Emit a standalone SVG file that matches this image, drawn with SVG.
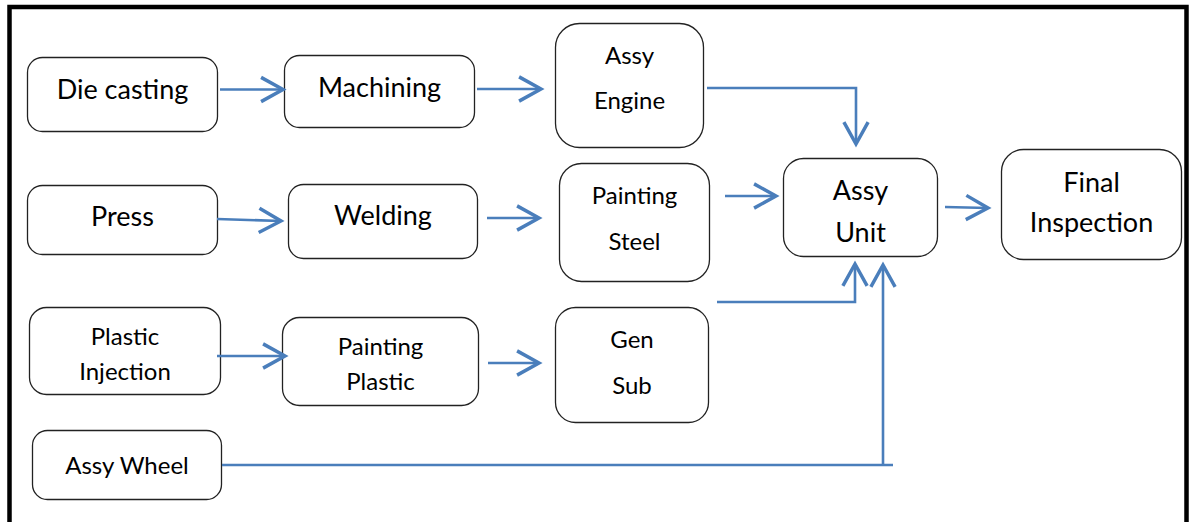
<svg xmlns="http://www.w3.org/2000/svg" width="1198" height="522" viewBox="0 0 1198 522">
<defs>
<style>
.n rect{fill:#fff;stroke:#222;stroke-width:1.3}
.n text{font-family:Lato,"Liberation Sans",sans-serif;fill:#000;text-anchor:middle}
.big{font-size:27px}
.sm{font-size:24px}
.c path{fill:none;stroke:#4a7ebb;stroke-width:2.6}
</style>
<marker id="ah" markerUnits="userSpaceOnUse" markerWidth="30" markerHeight="30" viewBox="-22 -13 26 26" refX="0" refY="0" orient="auto" overflow="visible">
<path d="M-19,-10.5 L0,0 L-19,10.5" fill="none" stroke="#4a7ebb" stroke-width="3"/>
</marker>
</defs>
<rect width="1198" height="522" fill="#fff"/>
<path d="M9.5,540 V7 H1186.5 V540" fill="none" stroke="#000" stroke-width="4.5"/>
<g id="die-casting" class="n"><rect x="27.5" y="57.5" width="190" height="74" rx="15"/><text class="big" x="122.5" y="99">Die casting</text></g>
<g id="machining" class="n"><rect x="284.5" y="55.5" width="190" height="72" rx="15"/><text class="big" x="379.5" y="97">Machining</text></g>
<g id="assy-engine" class="n"><rect x="555.5" y="23.5" width="148" height="124" rx="24"/><text class="sm" x="629.5" y="64">Assy</text><text class="sm" x="629.5" y="109">Engine</text></g>
<g id="press" class="n"><rect x="27.5" y="185.5" width="190" height="69" rx="15"/><text class="big" x="122.5" y="226">Press</text></g>
<g id="welding" class="n"><rect x="288.5" y="184.5" width="189" height="74" rx="15"/><text class="big" x="383" y="225">Welding</text></g>
<g id="painting-steel" class="n"><rect x="559.5" y="163.5" width="150" height="118" rx="22"/><text class="sm" x="634.5" y="204">Painting</text><text class="sm" x="634.5" y="250">Steel</text></g>
<g id="assy-unit" class="n"><rect x="783.5" y="158.5" width="154" height="98" rx="20"/><text class="big" x="860.5" y="200">Assy</text><text class="big" x="860.5" y="242">Unit</text></g>
<g id="final-inspection" class="n"><rect x="1001.5" y="149.5" width="180" height="110" rx="22"/><text class="big" x="1091.5" y="192">Final</text><text class="big" x="1091.5" y="232">Inspection</text></g>
<g id="plastic-injection" class="n"><rect x="29.5" y="307.5" width="191" height="87" rx="17"/><text class="sm" x="125" y="345">Plastic</text><text class="sm" x="125" y="380">Injection</text></g>
<g id="painting-plastic" class="n"><rect x="282.5" y="317.5" width="196" height="88" rx="17"/><text class="sm" x="380.5" y="355">Painting</text><text class="sm" x="380.5" y="390">Plastic</text></g>
<g id="gen-sub" class="n"><rect x="555.5" y="307.5" width="153" height="115" rx="20"/><text class="sm" x="632" y="348">Gen</text><text class="sm" x="632" y="394">Sub</text></g>
<g id="assy-wheel" class="n"><rect x="32.5" y="430.5" width="189" height="69" rx="15"/><text class="sm" x="127" y="474">Assy Wheel</text></g>
<g id="connectors" class="c">
<path d="M220,89.5 H283" marker-end="url(#ah)"/>
<path d="M477,89 H541" marker-end="url(#ah)"/>
<path d="M707,88 H856 V144" marker-end="url(#ah)"/>
<path d="M217,219 L281,221" marker-end="url(#ah)"/>
<path d="M487,218 H539" marker-end="url(#ah)"/>
<path d="M725,196 H776" marker-end="url(#ah)"/>
<path d="M717,302 H855 V264" marker-end="url(#ah)"/>
<path d="M222,465 H893"/>
<path d="M883,465 V265" marker-end="url(#ah)"/>
<path d="M217,356 H285" marker-end="url(#ah)"/>
<path d="M488,363 H539" marker-end="url(#ah)"/>
<path d="M945,207 L988,208" marker-end="url(#ah)"/>
</g>
</svg>
